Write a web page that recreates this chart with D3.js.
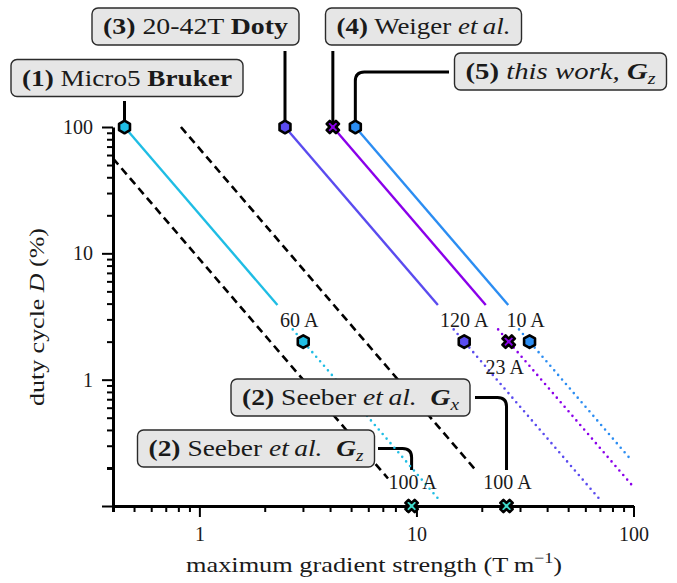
<!DOCTYPE html>
<html>
<head>
<meta charset="utf-8">
<script src="https://cdn.jsdelivr.net/npm/d3@7"></script>
<style>
  body { margin: 0; background: #fff; }
  text { font-family: 'Liberation Serif', 'DejaVu Serif', serif; fill: #1a1a1a; }
</style>
</head>
<body>
<svg id="chart" width="677" height="583"></svg>
<script>
// Gradient systems.
var systems = ['Micro5 Bruker', '20-42T Doty', 'Weiger et al.', 'this work Gz'];
var gFull = [0.452, 2.48, 4.12, 5.23];   // T/m at D = 100 %
var gLow = [3.01, 16.6, 26.6, 33.2];     // T/m at D = 2 %
var currents = ['60 A', '120 A', '23 A', '10 A'];
var dFull = 100, dLow = 2;

// Seeber et al. (D = 0.1 %)
var seeberAxes = ['Gx', 'Gz'];
var seeberG = [26, 9.5];
var seeberCurrents = ['100 A', '100 A'];
var seeberD = 0.1;

var xTicks = [1, 10, 100];
var yTicks = [0.1, 1, 10, 100];
var yLabels = ['', '1', '10', '100'];

// styles
var colors = ['#1fbde4', '#5a4bef', '#8a00ea', '#2b8df2'];
var shapes = ['hex', 'hex', 'x', 'hex'];
var seeberColor = '#3fdaca';

var svg = d3.select('#chart');
var x = d3.scaleLog().domain([0.4, 100]).range([113, 633.5]);
var y = d3.scaleLog().domain([0.1, 100]).range([506, 127]);

var line = d3.line()
  .x(function (d) { return x(d[0]); })
  .y(function (d) { return y(d[1]); });

// D scales like 1/G^2 through a reference point
function through(g0, d0, g) { return d0 * Math.pow(g0 / g, 2); }
function gAt(g0, d0, d) { return g0 * Math.sqrt(d0 / d); }

drawAxes();
drawLines();
drawMarkers();
drawCallouts();

function drawAxes() {
  var minorX = x.ticks().filter(function (v) { return xTicks.indexOf(v) < 0; });
  var minorY = y.ticks().filter(function (v) { return yTicks.indexOf(v) < 0; });

  var gx = svg.append('g').attr('transform', 'translate(0,506)');
  gx.call(d3.axisBottom(x).tickValues(minorX).tickSize(6).tickSizeOuter(0).tickFormat(''));
  gx.append('g').call(d3.axisBottom(x).tickValues(xTicks).tickSize(11).tickSizeOuter(0)
    .tickPadding(10).tickFormat(d3.format('')));

  var gy = svg.append('g').attr('transform', 'translate(113,0)');
  gy.call(d3.axisLeft(y).tickValues(minorY).tickSize(6).tickSizeOuter(0).tickFormat(''));
  gy.append('g').call(d3.axisLeft(y).tickValues(yTicks).tickSize(11).tickSizeOuter(0)
    .tickPadding(9).tickFormat(function (d, i) { return yLabels[i]; }));

  svg.selectAll('.domain').attr('stroke', '#000').attr('stroke-width', 3);
  svg.selectAll('.tick line').attr('stroke', '#000').attr('stroke-width', 2);
  svg.selectAll('.tick text').style('font-size', '20px').attr('fill', '#1a1a1a')
    .style('font-family', "'Liberation Serif', serif");
  gx.select('g').selectAll('.tick line').attr('stroke-width', 3);
  gy.select('g').selectAll('.tick line').attr('stroke-width', 3);
  gx.select('g .domain').remove();
  gy.select('g .domain').remove();

  // axis labels
  var xl = svg.append('text')
    .attr('x', 374).attr('y', 572)
    .attr('text-anchor', 'middle')
    .attr('textLength', 376).attr('lengthAdjust', 'spacingAndGlyphs')
    .style('font-size', '22px');
  xl.append('tspan').text('maximum gradient strength (T\u2009m');
  xl.append('tspan').attr('dy', -9).style('font-size', '15px').text('\u22121');
  xl.append('tspan').attr('dy', 9).text(')');

  var yl = svg.append('text')
    .attr('transform', 'translate(44,317) rotate(-90)')
    .attr('text-anchor', 'middle')
    .attr('textLength', 178).attr('lengthAdjust', 'spacingAndGlyphs')
    .style('font-size', '22px');
  yl.append('tspan').text('duty cycle ');
  yl.append('tspan').style('font-style', 'italic').text('D');
  yl.append('tspan').text(' (%)');
}

function drawLines() {
  // Seeber reference lines (dashed)
  var dashEnd = [0.19, 0.165];
  seeberG.forEach(function (g, i) {
    var g0 = Math.max(gAt(g, seeberD, 100), 0.4);
    var g1 = gAt(g, seeberD, dashEnd[i]);
    svg.append('path')
      .attr('d', line([[g0, through(g, seeberD, g0)], [g1, dashEnd[i]]]))
      .attr('fill', 'none').attr('stroke', '#000')
      .attr('stroke-width', 2.6).attr('stroke-dasharray', '8,5');
  });

  systems.forEach(function (s, i) {
    // solid: from 100 % point down to ~3.9 %
    var g1 = gAt(gFull[i], dFull, 3.9);
    svg.append('path')
      .attr('d', line([[gFull[i], dFull], [g1, 3.9]]))
      .attr('fill', 'none').attr('stroke', colors[i]).attr('stroke-width', 2.4);

    // dotted: through the 2 % point
    var a = gAt(gLow[i], dLow, 2.5);
    var b = Math.min(gAt(gLow[i], dLow, 0.11), 98);
    svg.append('path')
      .attr('d', line([[a, through(gLow[i], dLow, a)], [b, through(gLow[i], dLow, b)]]))
      .attr('fill', 'none').attr('stroke', colors[i]).attr('stroke-width', 2.6)
      .attr('stroke-linecap', 'round').attr('stroke-dasharray', '0,6');
  });
}

function hexPath(r) {
  var pts = d3.range(6).map(function (k) {
    var a = Math.PI / 2 + k * Math.PI / 3;
    return [r * Math.cos(a), r * Math.sin(a)];
  });
  return 'M' + pts.join('L') + 'Z';
}

function marker(g, d, shape, color) {
  var p = shape === 'hex' ? hexPath(6.3)
    : d3.symbol().type(d3.symbolCross).size(95)();
  svg.append('path')
    .attr('d', p)
    .attr('transform', 'translate(' + x(g) + ',' + y(d) + ')' + (shape === 'x' ? ' rotate(45)' : ''))
    .attr('fill', color).attr('stroke', '#000').attr('stroke-width', 2.6)
    .attr('stroke-linejoin', 'round');
}

function drawMarkers() {
  var labelOffset = [[-4, -22], [0, -22], [-4, 25], [-4, -22]];
  systems.forEach(function (s, i) {
    marker(gFull[i], dFull, shapes[i], colors[i]);
    marker(gLow[i], dLow, shapes[i], colors[i]);
    svg.append('text')
      .attr('x', x(gLow[i]) + labelOffset[i][0])
      .attr('y', y(dLow) + labelOffset[i][1])
      .attr('dy', '0.35em')
      .attr('text-anchor', 'middle')
      .style('font-size', '20px')
      .text(currents[i]);
  });
  seeberG.forEach(function (g, i) {
    marker(g, seeberD, 'x', seeberColor);
    svg.append('text')
      .attr('x', x(g) + 1)
      .attr('y', y(seeberD) - 24)
      .attr('dy', '0.35em')
      .attr('text-anchor', 'middle')
      .style('font-size', '20px')
      .text(seeberCurrents[i]);
  });
}

function elbow(x0, y0, x1, y1, r) {
  var sx = x1 > x0 ? 1 : -1;
  return 'M' + x0 + ',' + y0 + 'H' + (x1 - sx * r) +
    'Q' + x1 + ',' + y0 + ' ' + x1 + ',' + (y0 + r) + 'V' + y1;
}

function drawCallouts() {
  var bold = { 'font-weight': 'bold' };
  var ital = { 'font-style': 'italic' };
  var bi = { 'font-weight': 'bold', 'font-style': 'italic' };
  var boxes = [
    { parts: [['(1)', bold], [' Micro5 '], ['Bruker', bold]], cx: 127, cy: 78, w: 232 },
    { parts: [['(3)', bold], [' 20-42T '], ['Doty', bold]], cx: 195.5, cy: 26.5, w: 207 },
    { parts: [['(4)', bold], [' Weiger '], ['et\u2009al.', ital]], cx: 423.5, cy: 26.5, w: 196 },
    { parts: [['(5)', bold], [' this work, ', ital], ['G', bi], ['z', ital, true]], cx: 560.5, cy: 71.5, w: 212 },
    { parts: [['(2)', bold], [' Seeber '], ['et\u2009al.', ital], ['  '], ['G', bi], ['x', ital, true]], cx: 350.5, cy: 397.5, w: 239 },
    { parts: [['(2)', bold], [' Seeber '], ['et\u2009al.', ital], ['  '], ['G', bi], ['z', ital, true]], cx: 256, cy: 448.5, w: 237 }
  ];

  boxes.forEach(function (b) {
    var g = svg.append('g');
    g.append('rect')
      .attr('x', b.cx - b.w / 2).attr('y', b.cy - 18.5)
      .attr('width', b.w).attr('height', 37)
      .attr('rx', 6)
      .attr('fill', '#e6e6e6').attr('stroke', '#2b2b2b').attr('stroke-width', 1.4);
    var t = g.append('text')
      .attr('x', b.cx).attr('y', b.cy).attr('dy', '0.33em')
      .attr('text-anchor', 'middle')
      .attr('textLength', b.w - 22).attr('lengthAdjust', 'spacingAndGlyphs')
      .style('font-size', '23px')
      .attr('xml:space', 'preserve');
    b.parts.forEach(function (p) {
      var ts = t.append('tspan').text(p[0]);
      if (p[1]) Object.keys(p[1]).forEach(function (k) { ts.style(k, p[1][k]); });
      if (p[2]) ts.attr('dy', 5).style('font-size', '16px');
    });
  });

  var conn = [
    'M' + x(gFull[0]) + ',101V' + y(dFull),
    'M' + x(gFull[1]) + ',51V' + y(dFull),
    'M' + x(gFull[2]) + ',51V' + y(dFull),
    elbow(449, 72, x(gFull[3]), y(dFull), 9),
    elbow(475, 397.5, x(seeberG[0]), 470, 9),
    elbow(378, 448.5, x(seeberG[1]), 470, 9)
  ];
  svg.insert('g', ':first-child').selectAll('path')
    .data(conn).enter().append('path')
    .attr('d', function (d) { return d; })
    .attr('fill', 'none').attr('stroke', '#000').attr('stroke-width', 3);
}
</script>
</body>
</html>
